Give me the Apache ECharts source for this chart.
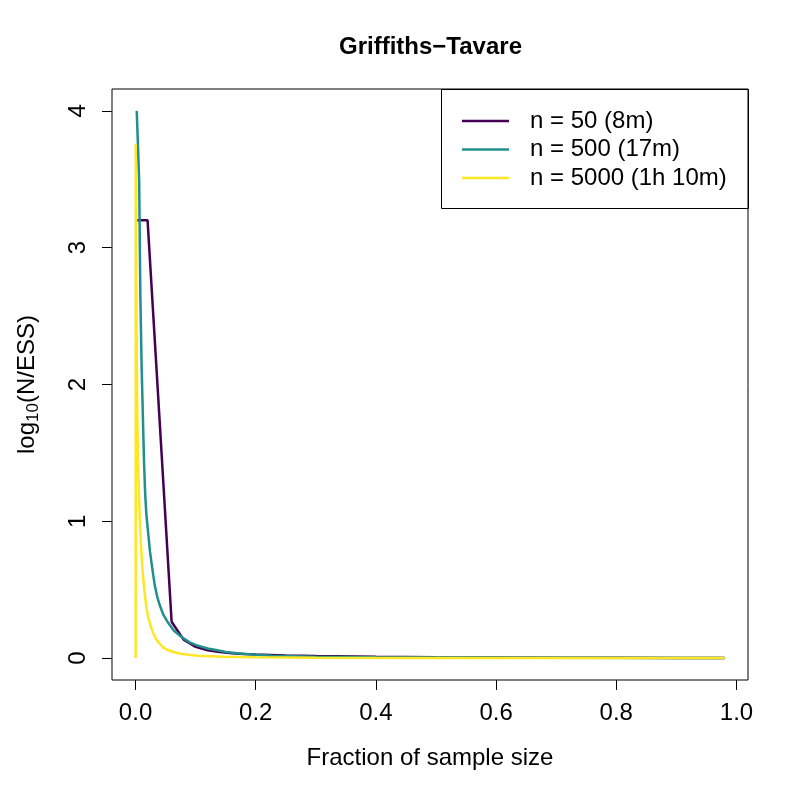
<!DOCTYPE html>
<html>
<head>
<meta charset="utf-8">
<script src="https://cdn.jsdelivr.net/npm/echarts@6/dist/echarts.min.js"></script>
<style>
  html, body { margin: 0; padding: 0; background: #fff; }
  #chart { width: 793px; height: 793px; }
</style>
</head>
<body>
<div id="chart"></div>
<script>
// legend labels
const seriesNames = ['n = 50 (8m)', 'n = 500 (17m)', 'n = 5000 (1h 10m)'];

// [fraction of sample size, log10(N/ESS)]
const n50 = [
  [0, 3.2], [0.02, 3.2], [0.04, 1.74], [0.06, 0.266], [0.08, 0.135], [0.10, 0.082],
  [0.12, 0.058], [0.14, 0.044], [0.16, 0.036], [0.18, 0.03], [0.20, 0.026],
  [0.25, 0.019], [0.30, 0.015], [0.40, 0.01], [0.50, 0.007], [0.60, 0.005],
  [0.70, 0.003], [0.80, 0.002], [0.90, 0.001], [0.98, 0]
];
const n500 = [
  [0.002, 4.0], [0.004, 4.0], [0.006, 3.49], [0.008, 2.65], [0.010, 2.15],
  [0.012, 1.8], [0.014, 1.45], [0.016, 1.2], [0.018, 1.05], [0.020, 0.96],
  [0.024, 0.78], [0.028, 0.65], [0.032, 0.53], [0.036, 0.45], [0.040, 0.39],
  [0.046, 0.32], [0.054, 0.26], [0.064, 0.2], [0.076, 0.156], [0.090, 0.115],
  [0.101, 0.095], [0.120, 0.07], [0.134, 0.059], [0.150, 0.045], [0.173, 0.034],
  [0.200, 0.025], [0.228, 0.017], [0.30, 0.01], [0.40, 0.006], [0.50, 0.004],
  [0.70, 0.002], [0.98, 0]
];
const n5000 = [
  [0.0002, 0], [0.0004, 3.76], [0.0008, 3.3], [0.0012, 2.9], [0.0016, 2.5],
  [0.002, 2.2], [0.0025, 1.9], [0.004, 1.45], [0.0055, 1.2], [0.0078, 0.94],
  [0.0096, 0.78], [0.0116, 0.645], [0.0145, 0.5], [0.018, 0.37], [0.021, 0.3],
  [0.025, 0.235], [0.029, 0.185], [0.034, 0.14], [0.041, 0.1], [0.047, 0.075],
  [0.054, 0.059], [0.063, 0.045], [0.073, 0.034], [0.087, 0.024], [0.104, 0.017],
  [0.145, 0.01], [0.20, 0.006], [0.30, 0.003], [0.50, 0.001], [0.98, 0]
];

const xTicks = [0, 0.2, 0.4, 0.6, 0.8, 1.0];
const yTicks = [0, 1, 2, 3, 4];
const colors = ['#440154', '#21908C', '#FDE725'];

const font = '"Liberation Sans", Arial, Helvetica, sans-serif';

const myChart = echarts.init(document.getElementById('chart'));

myChart.setOption({
  animation: false,
  backgroundColor: '#fff',
  title: {
    text: 'Griffiths\u2212Tavare',
    left: 430.5,
    top: 35,
    textAlign: 'center',
    padding: 0,
    textStyle: { fontFamily: font, fontWeight: 'bold', fontSize: 24, color: '#000' }
  },
  legend: {
    data: seriesNames,
    orient: 'vertical',
    left: 462,
    top: 107,
    padding: 0,
    icon: 'rect',
    itemWidth: 47,
    itemHeight: 2.5,
    itemGap: 0.5,
    textStyle: {
      fontFamily: font, fontSize: 24, color: '#000',
      lineHeight: 28, padding: [0, 0, 0, 16]
    }
  },
  graphic: [{
    type: 'rect',
    shape: { x: 441.5, y: 89.5, width: 307, height: 119 },
    style: { fill: 'none', stroke: '#000', lineWidth: 1 },
    z: 10
  }],
  grid: {
    left: 112, top: 89, width: 636, height: 591,
    show: true, borderColor: '#000', borderWidth: 1, backgroundColor: 'transparent'
  },
  xAxis: {
    type: 'value',
    min: -0.0392,
    max: 1.0192,
    name: 'Fraction of sample size',
    nameLocation: 'middle',
    nameGap: 66,
    nameTextStyle: { fontFamily: font, fontSize: 24, color: '#000' },
    axisLine: { show: false, onZero: false },
    splitLine: { show: false },
    axisTick: { customValues: xTicks, length: 10, lineStyle: { color: '#000' } },
    axisLabel: {
      customValues: xTicks, margin: 21,
      fontFamily: font, fontSize: 24, color: '#000',
      formatter: v => v.toFixed(1)
    }
  },
  yAxis: {
    type: 'value',
    min: -0.16,
    max: 4.16,
    name: '{a|log}{s|10}{a|(N/ESS)}',
    nameLocation: 'middle',
    nameGap: 70,
    nameTextStyle: {
      fontFamily: font, color: '#000',
      rich: {
        a: { fontFamily: font, fontSize: 24, color: '#000', lineHeight: 30 },
        s: { fontFamily: font, fontSize: 17, color: '#000', lineHeight: 30, padding: [12, 0, 0, 0] }
      }
    },
    axisLine: { show: false, onZero: false },
    splitLine: { show: false },
    axisTick: { customValues: yTicks, length: 10, lineStyle: { color: '#000' } },
    axisLabel: {
      customValues: yTicks, margin: 22, rotate: 90,
      fontFamily: font, fontSize: 24, color: '#000',
      formatter: v => String(v)
    }
  },
  series: [n50, n500, n5000].map((d, i) => ({
    name: seriesNames[i],
    type: 'line',
    data: d,
    symbol: 'none',
    clip: false,
    color: colors[i],
    lineStyle: { width: 2.5, color: colors[i] }
  }))
});
</script>
</body>
</html>
